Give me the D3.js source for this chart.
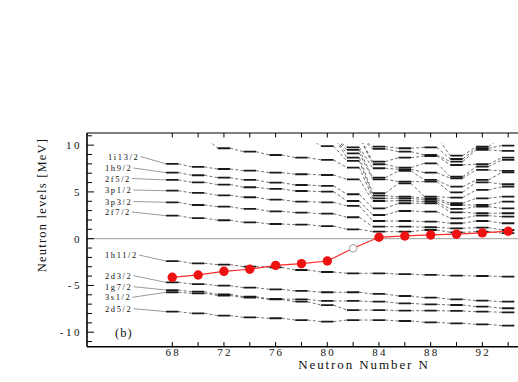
<!DOCTYPE html>
<html><head><meta charset="utf-8">
<script src="https://cdn.jsdelivr.net/npm/d3@7"></script>
<style>
html,body{margin:0;padding:0;background:#fff;}
svg{display:block;}
text{font-family:"Liberation Serif","DejaVu Serif",serif;fill:#111;}
</style></head>
<body>
<svg id="chart" width="518" height="382"></svg>
<script>
// ---- data ----
const neutronN = [68,70,72,74,76,78,80,82,84,86,88,90,92,94];
// single-particle levels above 0 MeV at each N (MeV)
const upperLevels = [
  [8.0, 7.06, 6.28, 5.13, 3.89, 2.46],
  [7.67, 6.78, 6.03, 4.89, 3.6, 2.2],
  [9.67, 7.45, 6.52, 5.78, 4.64, 3.42, 1.97],
  [9.3, 7.27, 6.28, 5.5, 4.43, 3.18, 1.75],
  [8.95, 7.06, 6.0, 5.32, 4.17, 2.93, 1.57],
  [8.67, 6.89, 5.74, 5.1, 3.96, 2.78, 1.5],
  [9.9, 8.42, 6.81, 5.64, 5.03, 3.89, 2.67, 1.35],
  [9.77, 9.49, 9.13, 8.66, 8.31, 7.6, 6.35, 4.75, 4.03, 3.5, 2.29, 1.0],
  [9.84, 9.6, 8.24, 7.96, 7.53, 6.52, 6.35, 4.86, 4.6, 4.32, 4.03, 3.25, 2.53, 1.89, 1.28, 0.75],
  [9.67, 9.3, 8.67, 7.6, 7.42, 7.24, 6.1, 5.92, 4.49, 4.32, 4.06, 3.79, 2.96, 1.89, 1.28, 0.75],
  [9.77, 8.95, 8.84, 8.06, 7.06, 6.28, 6.1, 4.49, 4.32, 4.14, 3.96, 3.79, 2.89, 1.82, 1.22, 0.93],
  [8.88, 8.52, 8.24, 7.88, 6.63, 6.46, 5.56, 4.96, 4.39, 3.79, 3.6, 3.18, 2.82, 2.18, 1.65, 1.11, 0.68],
  [9.84, 9.67, 9.49, 7.96, 7.7, 7.35, 6.28, 6.03, 5.21, 4.32, 3.6, 3.42, 2.72, 2.46, 1.89, 1.18, 0.75],
  [9.95, 9.38, 8.66, 8.42, 7.24, 7.1, 5.82, 5.56, 4.49, 3.96, 3.25, 2.72, 2.35, 1.65, 0.93, 0.6]
];
const upperNames = ["1i13/2","1h9/2","2f5/2","3p1/2","3p3/2","2f7/2"];
const lowerNames = ["1h11/2","2d3/2","1g7/2","3s1/2","2d5/2"];
const lowerLevels = [
  [-2.39,-2.63,-2.78,-2.99,-3.06,-3.35,-3.56,-3.7,-3.7,-3.8,-3.88,-3.96,-3.99,-4.06],
  [-4.67,-4.85,-5.03,-5.24,-5.41,-5.59,-5.73,-5.73,-5.91,-6.13,-6.31,-6.48,-6.63,-6.74],
  [-5.49,-5.67,-5.95,-6.2,-6.45,-6.48,-6.66,-6.66,-6.74,-6.91,-7.02,-7.09,-7.27,-7.44],
  [-5.73,-5.84,-6.08,-6.3,-6.5,-6.74,-7.1,-7.63,-7.63,-7.7,-7.7,-7.73,-7.81,-7.87],
  [-7.8,-7.98,-8.23,-8.41,-8.51,-8.7,-8.87,-8.7,-8.7,-8.8,-8.94,-9.05,-9.16,-9.3]
];
// Fermi level (red line); N=82 drawn as open circle
const fermi = [-4.13,-3.88,-3.49,-3.27,-2.85,-2.67,-2.39,-1.03,0.15,0.29,0.4,0.48,0.62,0.8];
const openPointN = [82];
const yTicks = [-10,-5,0,5,10];
const xTickLabels = [68,72,76,80,84,88,92];
const xTicksAll = [68,70,72,74,76,78,80,82,84,86,88,90,92,94];

// ---- layout ----
const svg = d3.select("#chart");
const x = d3.scaleLinear().domain([61.4, 96]).range([87, 534]);
const y = d3.scaleLinear().domain([-11.55, 11.3]).range([346.7, 133]);
const half = 0.48;      // half width of a level bar (in N)
const offTop = 10.9;    // virtual energy for levels entering/leaving above the window

svg.append("defs").append("clipPath").attr("id","clipTop")
  .append("rect").attr("x",87).attr("y",y(10.2)).attr("width",450).attr("height",346.7-y(10.2));

// zero line
svg.append("line").attr("x1",87).attr("x2",534).attr("y1",y(0)).attr("y2",y(0))
  .attr("stroke","#b0b0b0").attr("stroke-width",1.2);

const gLev = svg.append("g").attr("clip-path","url(#clipTop)");

function connector(n1,e1,n2,e2){
  gLev.append("line")
    .attr("x1",x(n1+half)).attr("y1",y(e1))
    .attr("x2",x(n2-half)).attr("y2",y(e2))
    .attr("stroke","#333").attr("stroke-width",0.7)
    .attr("stroke-dasharray","3,2.2");
}
function bar(n,e){
  gLev.append("line")
    .attr("x1",x(n-half)).attr("x2",x(n+half))
    .attr("y1",y(e)).attr("y2",y(e))
    .attr("stroke","#1a1a1a").attr("stroke-width",1.8);
}

// upper levels: connect bottom-aligned, extra levels go to/come from above
for(let k=0;k<neutronN.length-1;k++){
  const a = upperLevels[k].slice().sort((p,q)=>p-q);
  const b = upperLevels[k+1].slice().sort((p,q)=>p-q);
  const n1 = neutronN[k], n2 = neutronN[k+1];
  const m = Math.min(a.length,b.length);
  for(let i=0;i<m;i++) connector(n1,a[i],n2,b[i]);
  for(let i=m;i<b.length;i++) connector(n1,offTop,n2,b[i]);
  for(let i=m;i<a.length;i++) connector(n1,a[i],n2,offTop);
}
// lower levels: explicit tracks
lowerLevels.forEach(tr=>{
  for(let k=0;k<neutronN.length-1;k++) connector(neutronN[k],tr[k],neutronN[k+1],tr[k+1]);
});
upperLevels.forEach((col,k)=>col.forEach(e=>bar(neutronN[k],e)));
lowerLevels.forEach(tr=>tr.forEach((e,k)=>bar(neutronN[k],e)));

// labels
const upperLabelY = [156.5,168,178.5,190,201.5,212];
const lowerLabelY = [255,275.7,286.7,297.3,308.7];
function addLabels(names, levelsAtFirst, ys){
  names.forEach((nm,i)=>{
    const t = svg.append("text").attr("x",nm==="1i13/2"?108:105).attr("y",ys[i]+3)
      .attr("font-size",8.5).attr("letter-spacing",1.6).text(nm);
    const w = t.node().getComputedTextLength();
    const x0 = (nm==="1i13/2"?108:105) + w + 1;
    svg.append("line").attr("x1",x0).attr("y1",ys[i]).attr("x2",x(68-half)).attr("y2",y(levelsAtFirst[i]))
      .attr("stroke","#555").attr("stroke-width",0.6);
  });
}
addLabels(upperNames, upperLevels[0], upperLabelY);
addLabels(lowerNames, lowerLevels.map(t=>t[0]), lowerLabelY);

// Fermi line
const line = d3.line().x((d,i)=>x(neutronN[i])).y(d=>y(d));
svg.append("path").datum(fermi).attr("d",line).attr("fill","none")
  .attr("stroke","#ff2a2a").attr("stroke-width",1.2);
svg.selectAll("circle.f").data(fermi).enter().append("circle")
  .attr("cx",(d,i)=>x(neutronN[i])).attr("cy",d=>y(d))
  .attr("r",(d,i)=>openPointN.includes(neutronN[i])?3.8:4.7)
  .attr("fill",(d,i)=>openPointN.includes(neutronN[i])?"#fff":"#ee1111")
  .attr("stroke",(d,i)=>openPointN.includes(neutronN[i])?"#888":"none")
  .attr("stroke-width",0.8);

// axes
const axisG = svg.append("g");
axisG.append("line").attr("x1",87).attr("x2",87).attr("y1",133).attr("y2",346.7).attr("stroke","#000").attr("stroke-width",1.6);
axisG.append("line").attr("x1",87).attr("x2",534).attr("y1",346.7).attr("y2",346.7).attr("stroke","#000").attr("stroke-width",1.6);
axisG.append("line").attr("x1",87).attr("x2",534).attr("y1",133).attr("y2",133).attr("stroke","#000").attr("stroke-width",1.2);
// y ticks
d3.range(-11,12,1).forEach(v=>{
  const major = yTicks.includes(v);
  axisG.append("line").attr("x1",87).attr("x2",87+(major?7:5)).attr("y1",y(v)).attr("y2",y(v))
    .attr("stroke","#000").attr("stroke-width",1);
});
yTicks.forEach(v=>{
  axisG.append("text").attr("x",82).attr("y",y(v)+4).attr("text-anchor","end")
    .attr("font-size",11).attr("letter-spacing",2.5).text(v);
});
// x ticks bottom and top
xTicksAll.forEach(v=>{
  axisG.append("line").attr("x1",x(v)).attr("x2",x(v)).attr("y1",346.7).attr("y2",342)
    .attr("stroke","#000").attr("stroke-width",1);
  axisG.append("line").attr("x1",x(v)).attr("x2",x(v)).attr("y1",133).attr("y2",137.5)
    .attr("stroke","#000").attr("stroke-width",1);
});
xTickLabels.forEach(v=>{
  axisG.append("text").attr("x",x(v)+1).attr("y",356).attr("text-anchor","middle")
    .attr("font-size",11).attr("letter-spacing",2.2).text(v);
});
svg.append("text").attr("x",364).attr("y",369).attr("text-anchor","middle")
  .attr("font-size",13).attr("letter-spacing",1.9).text("Neutron Number N");
svg.append("text").attr("transform","translate(46,205) rotate(-90)").attr("text-anchor","middle")
  .attr("font-size",12.5).attr("letter-spacing",1.2).text("Neutron levels [MeV]");
svg.append("text").attr("x",115).attr("y",337).attr("font-size",12.5)
  .attr("font-family","Liberation Sans, Arial, sans-serif").attr("letter-spacing",1).text("(b)");
</script>
</body></html>
